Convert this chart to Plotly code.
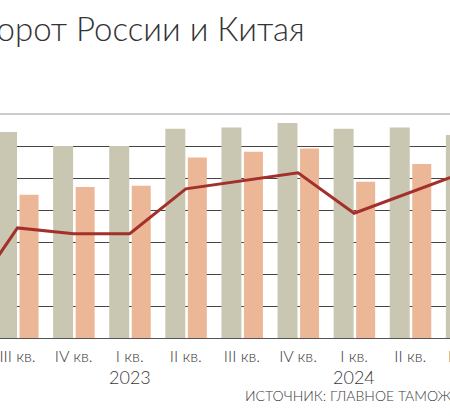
import plotly.graph_objects as go

# quarters, II кв. 2022 ... III кв. 2024
quarters = ["II кв.", "III кв.", "IV кв.", "I кв.", "II кв.", "III кв.",
            "IV кв.", "I кв.", "II кв.", "III кв."]
years = {3: "2023", 7: "2024"}  # year label under first quarter

gray_vals = [31.0, 32.2, 30.0, 30.0, 32.7, 32.9, 33.6, 32.7, 32.9, 31.7]
salmon_vals = [20.0, 22.4, 23.6, 23.8, 28.2, 29.1, 29.6, 24.4, 27.2, 26.0]
line_vals = [4.4, 17.2, 16.3, 16.3, 23.3, 24.5, 25.8, 19.5, 22.8, 26.0]

x = list(range(len(quarters)))
X_RANGE = [0.688, 8.709]

FONT = "Lato"
W = 300
GRAY = "#c9c7b1"
SALMON = "#ebb797"
RED = "#a4302b"
TXT = "#3a3a3a"

fig = go.Figure()
fig.add_trace(go.Bar(x=x, y=gray_vals, marker_color=GRAY, marker_line_width=0,
                     offset=-0.365, width=0.356, hoverinfo="y"))
fig.add_trace(go.Bar(x=x, y=salmon_vals, marker_color=SALMON, marker_line_width=0,
                     offset=0.036, width=0.339, hoverinfo="y"))
fig.add_trace(go.Scatter(x=x, y=line_vals, mode="lines",
                         line=dict(color=RED, width=3)))

# year labels
for i, yr in years.items():
    fig.add_annotation(x=i, y=-0.174, xref="x", yref="paper", text=yr,
                       yanchor="middle", showarrow=False,
                       font=dict(family=FONT, size=18, color=TXT, weight=W))

# tick label that falls off the right edge (paper coords, plotly hides off-range ones)
last = len(quarters) - 1
fig.add_annotation(x=(last - X_RANGE[0]) / (X_RANGE[1] - X_RANGE[0]), y=-0.076,
                   xref="paper", yref="paper", text=quarters[last],
                   xanchor="center", yanchor="middle", showarrow=False,
                   font=dict(family=FONT, size=16, color=TXT, weight=W))

# title (cut at the left edge like the source)
fig.add_annotation(x=307 / 450, y=1.385, xref="paper", yref="paper",
                   xanchor="right", yanchor="middle", showarrow=False,
                   text="Товарооборот России и Китая",
                   font=dict(family=FONT, size=33, color="#333", weight=W))

# source
fig.add_annotation(x=243 / 450, y=-0.255, xref="paper", yref="paper",
                   xanchor="left", yanchor="middle", showarrow=False,
                   text="ИСТОЧНИК: ГЛАВНОЕ ТАМОЖЕННОЕ УПРАВЛЕНИЕ КНР",
                   font=dict(family=FONT, size=14, color=TXT, weight=W))

# light top rule
fig.add_shape(type="line", xref="paper", yref="paper", x0=0, x1=1, y0=1, y1=1,
              line=dict(color="#999", width=1.2), layer="above")

fig.update_layout(
    width=450, height=419,
    margin=dict(l=0, r=0, t=114, b=81),
    barmode="overlay",
    showlegend=False,
    plot_bgcolor="white", paper_bgcolor="white",
    font=dict(family=FONT, color=TXT),
    xaxis=dict(range=X_RANGE, tickvals=x, ticktext=quarters,
               showgrid=False, zeroline=False, showline=True,
               linecolor="#555", linewidth=1.2,
               ticks="outside", ticklen=4, tickcolor="rgba(0,0,0,0)",
               ticklabeloverflow="allow",
               tickfont=dict(family=FONT, size=16, color=TXT, weight=W)),
    yaxis=dict(range=[0, 35], dtick=5, showgrid=True, gridcolor="#444",
               gridwidth=1, zeroline=False, showticklabels=False, ticks=""),
)

fig.write_html("out.html", config={"displayModeBar": False},
               post_script="document.body.style.margin='0';")
